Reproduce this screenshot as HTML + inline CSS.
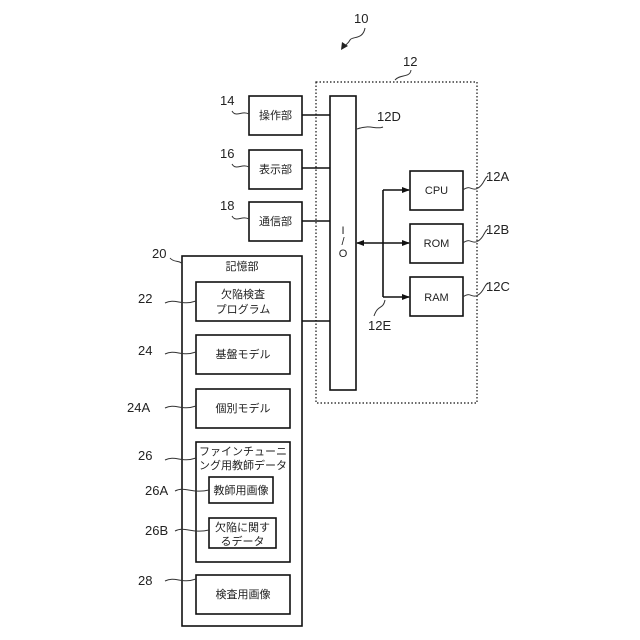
<!DOCTYPE html>
<html><head><meta charset="utf-8"><style>
html,body{margin:0;padding:0;background:#fff;}
svg{display:block;}
text{font-family:"Liberation Sans","Noto Sans CJK JP",sans-serif;fill:#222;}
.j{font-size:11px;}
.l{font-size:13px;}
</style></head><body>
<svg width="640" height="640" viewBox="0 0 640 640" xmlns="http://www.w3.org/2000/svg">
<defs><marker id="a" markerWidth="8" markerHeight="8" refX="7" refY="4" orient="auto-start-reverse" markerUnits="userSpaceOnUse"><path d="M0,1 L8,4 L0,7 Z" fill="#111"/></marker></defs>
<g fill="none" stroke="#111" stroke-width="1.6">
<rect x="316" y="82" width="161" height="321" stroke-dasharray="1.5,2" stroke-width="1.2"/>
<rect x="330" y="96" width="26" height="294"/>
<rect x="249" y="96" width="53" height="39"/>
<rect x="249" y="150" width="53" height="39"/>
<rect x="249" y="202" width="53" height="39"/>
<line x1="302" y1="115" x2="330" y2="115"/>
<line x1="302" y1="168" x2="330" y2="168"/>
<line x1="302" y1="221" x2="330" y2="221"/>
<line x1="302" y1="321" x2="330" y2="321"/>
<rect x="410" y="171" width="53" height="39"/>
<rect x="410" y="224" width="53" height="39"/>
<rect x="410" y="277" width="53" height="39"/>
<line x1="383" y1="190" x2="383" y2="297"/>
<line x1="383" y1="190" x2="409" y2="190" marker-end="url(#a)"/>
<line x1="383" y1="297" x2="409" y2="297" marker-end="url(#a)"/>
<line x1="357" y1="243" x2="409" y2="243" marker-start="url(#a)" marker-end="url(#a)"/>
<rect x="182" y="256" width="120" height="370"/>
<rect x="196" y="282" width="94" height="39"/>
<rect x="196" y="335" width="94" height="39"/>
<rect x="196" y="389" width="94" height="39"/>
<rect x="196" y="442" width="94" height="120"/>
<rect x="209" y="477" width="64" height="26"/>
<rect x="209" y="518" width="67" height="30"/>
<rect x="196" y="575" width="94" height="39"/>
</g>
<g fill="none" stroke="#333" stroke-width="1">
<path d="M365,28 C363,40 352,36 350,40 C348,44 346,44 345,46"/>
<path d="M411,70 C410,78 400,74 395,80"/>
<path d="M383,127 C376,130 370,124 357,129"/>
<path d="M463,190 C470,184 472,192 478,188 C484,185 484,178 488,176"/>
<path d="M463,243 C470,237 472,245 478,241 C484,238 484,231 488,229"/>
<path d="M463,297 C470,291 472,299 478,295 C484,292 484,285 488,283"/>
<path d="M374,316 C378,304 383,310 385,300"/>
<path d="M232,111 C236,118 242,110 249,114"/>
<path d="M232,164 C236,171 242,163 249,167"/>
<path d="M232,216 C236,223 242,215 249,219"/>
<path d="M170,258 C174,263 180,260 182,264"/>
<path d="M165,303 C175,298 182,306 196,301"/>
<path d="M165,354 C175,349 182,357 196,352"/>
<path d="M165,408 C175,403 182,411 196,406"/>
<path d="M165,460 C175,455 182,463 196,458"/>
<path d="M175,491 C185,486 192,494 209,490"/>
<path d="M175,531 C185,526 192,534 209,530"/>
<path d="M165,581 C175,576 182,584 196,579"/>
</g>
<path d="M341,50 L342,42 L348,46 Z" fill="#222"/>
<g class="j" text-anchor="middle">
<text x="275.5" y="119">操作部</text>
<text x="275.5" y="173">表示部</text>
<text x="275.5" y="225">通信部</text>
<text x="436.5" y="194">CPU</text>
<text x="436.5" y="247">ROM</text>
<text x="436.5" y="301">RAM</text>
<text x="242" y="270">記憶部</text>
<text x="243" y="298">欠陥検査</text>
<text x="243" y="313">プログラム</text>
<text x="243" y="358">基盤モデル</text>
<text x="243" y="412">個別モデル</text>
<text x="243" y="455">ファインチューニ</text>
<text x="243" y="469">ング用教師データ</text>
<text x="241" y="494">教師用画像</text>
<text x="242.5" y="531">欠陥に関す</text>
<text x="242.5" y="545">るデータ</text>
<text x="243" y="598">検査用画像</text>
<text x="343" y="234">I</text>
<text x="343" y="245">/</text>
<text x="343" y="257">O</text>
</g>
<g class="l">
<text x="354" y="23">10</text>
<text x="403" y="66">12</text>
<text x="377" y="121">12D</text>
<text x="486" y="181">12A</text>
<text x="486" y="234">12B</text>
<text x="486" y="291">12C</text>
<text x="368" y="330">12E</text>
<text x="220" y="105">14</text>
<text x="220" y="158">16</text>
<text x="220" y="210">18</text>
<text x="152" y="258">20</text>
<text x="138" y="303">22</text>
<text x="138" y="355">24</text>
<text x="127" y="412">24A</text>
<text x="138" y="460">26</text>
<text x="145" y="495">26A</text>
<text x="145" y="535">26B</text>
<text x="138" y="585">28</text>
</g>
</svg>
</body></html>
